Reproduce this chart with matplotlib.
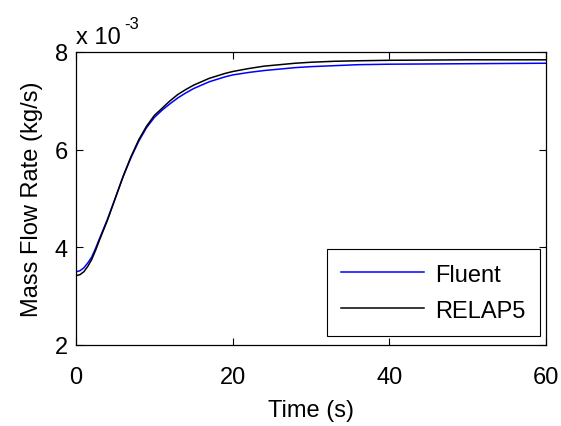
import matplotlib
matplotlib.use("Agg")
import matplotlib.pyplot as plt

plt.rcParams['font.family'] = ['Liberation Sans', 'DejaVu Sans']

# time (s) and mass flow rate (x 1e-3 kg/s)
t = [0, 0.5, 1, 1.5, 2, 2.5, 3, 4, 5, 6, 7, 8, 9, 10, 11, 12, 13, 14, 15,
     16, 17, 18, 19, 20, 22, 24, 26, 28, 30, 33, 36, 40, 50, 60]
fluent = [3.50, 3.52, 3.58, 3.68, 3.80, 3.98, 4.18, 4.57, 5.00, 5.44, 5.83,
          6.17, 6.45, 6.66, 6.81, 6.94, 7.06, 7.16, 7.25, 7.32, 7.39, 7.44,
          7.49, 7.53, 7.58, 7.62, 7.65, 7.68, 7.70, 7.72, 7.74, 7.75, 7.76,
          7.77]
relap5 = [3.42, 3.44, 3.50, 3.61, 3.75, 3.94, 4.15, 4.55, 5.00, 5.45, 5.85,
          6.20, 6.48, 6.70, 6.85, 7.00, 7.13, 7.23, 7.32, 7.39, 7.46, 7.51,
          7.56, 7.60, 7.66, 7.71, 7.74, 7.77, 7.79, 7.81, 7.82, 7.83, 7.84,
          7.84]

xticks = [0, 20, 40, 60]
yticks = [2, 4, 6, 8]

fig = plt.figure(figsize=(5.61, 4.27), dpi=100)
ax = fig.add_axes([0.1355, 0.1897, 0.8378, 0.6862])

ax.plot(t, fluent, color='#0000ff', lw=1.1, label='Fluent')
ax.plot(t, relap5, color='black', lw=1.1, label='RELAP5')

ax.set_xlim(0, 60)
ax.set_ylim(2, 8)
ax.set_xticks(xticks)
ax.set_yticks(yticks)
ax.tick_params(direction='in', length=5, width=0.8, labelsize=17,
               top=True, right=True)
ax.tick_params(axis='x', pad=15)
ax.tick_params(axis='y', pad=6)
for s in ax.spines.values():
    s.set_linewidth(0.9)

ax.set_xlabel('Time (s)', fontsize=17, labelpad=8)
ax.set_ylabel('Mass Flow Rate (kg/s)', fontsize=17, labelpad=8)

# exponent label, matlab style
fig.text(0.1355, 0.898, 'x 10', fontsize=17, ha='left', va='baseline')
fig.text(0.221, 0.932, '-3', fontsize=12, ha='left', va='baseline')

leg = ax.legend(loc='lower right', bbox_to_anchor=(0.987, 0.031),
                borderaxespad=0, fontsize=17, handlelength=3.5,
                handletextpad=0.5, labelspacing=0.6, fancybox=False,
                framealpha=1, edgecolor='black', borderpad=0.6)
leg.get_frame().set_linewidth(0.8)

fig.savefig('out.png', dpi=100)
